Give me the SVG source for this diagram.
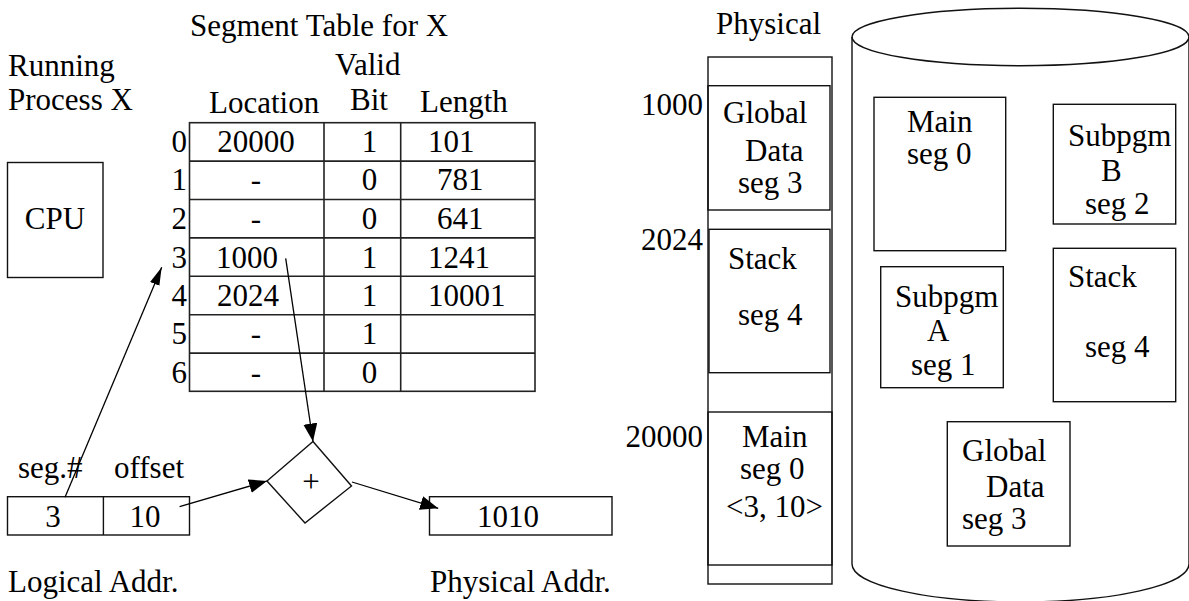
<svg xmlns="http://www.w3.org/2000/svg" width="1189" height="601" viewBox="0 0 1189 601">
  <style>
    text { font-family: "Liberation Serif", "Times New Roman", serif; font-size: 31px; fill: #000; }
    .box { fill: none; stroke: #111; stroke-width: 1.4; }
    .grid { fill: none; stroke: #222; stroke-width: 1.6; }
    .conn { fill: none; stroke: #000; stroke-width: 1.3; }
    .mid { text-anchor: middle; }
    .end { text-anchor: end; }
  </style>
  <defs>
    <marker id="head" markerUnits="userSpaceOnUse" markerWidth="20" markerHeight="16" refX="18" refY="7" orient="auto">
      <path d="M0,0 L18,7 L0,14 z" fill="#000"/>
    </marker>
    <marker id="headThin" markerUnits="userSpaceOnUse" markerWidth="20" markerHeight="12" refX="18" refY="5" orient="auto">
      <path d="M0,0 L18,5 L0,10 z" fill="#000"/>
    </marker>
  </defs>

  <rect width="1189" height="601" fill="#fff"/>

  <!-- process side labels -->
  <g id="process-label">
    <text x="8" y="76">Running</text>
    <text x="8" y="110">Process X</text>
  </g>

  <g id="cpu">
    <rect class="box" x="7.5" y="162.5" width="95.5" height="115"/>
    <text x="55" y="229" class="mid">CPU</text>
  </g>

  <!-- segment table -->
  <g id="segment-table">
    <text x="190" y="36">Segment Table for X</text>
    <text x="335" y="75">Valid</text>
    <text x="209" y="113">Location</text>
    <text x="350" y="110">Bit</text>
    <text x="420" y="112">Length</text>

    <rect class="grid" x="189.5" y="122.7" width="345.5" height="268.6"/>
    <path class="grid" d="M324,122.7 V391.3 M400.7,122.7 V391.3
      M189.5,161.1 H535 M189.5,199.5 H535 M189.5,237.9 H535 M189.5,276.3 H535
      M189.5,314.7 H535 M189.5,353.1 H535"/>

    <g class="end">
      <text x="187" y="152">0</text>
      <text x="187" y="190">1</text>
      <text x="187" y="229">2</text>
      <text x="187" y="268">3</text>
      <text x="187" y="306">4</text>
      <text x="187" y="344">5</text>
      <text x="187" y="383">6</text>
    </g>

    <text x="256" y="152" class="mid">20000</text>
    <text x="256" y="190" class="mid">-</text>
    <text x="256" y="229" class="mid">-</text>
    <text x="216" y="268">1000</text>
    <text x="217" y="306">2024</text>
    <text x="256" y="344" class="mid">-</text>
    <text x="256" y="383" class="mid">-</text>

    <g class="mid">
      <text x="369.5" y="152">1</text>
      <text x="369.5" y="190">0</text>
      <text x="369.5" y="229">0</text>
      <text x="369.5" y="268">1</text>
      <text x="369.5" y="306">1</text>
      <text x="369.5" y="344">1</text>
      <text x="369.5" y="383">0</text>
    </g>

    <text x="428" y="152">101</text>
    <text x="437" y="190">781</text>
    <text x="437" y="229">641</text>
    <text x="428" y="268">1241</text>
    <text x="428" y="306">10001</text>
  </g>

  <!-- logical address -->
  <g id="logical-address">
    <text x="18" y="478">seg.#</text>
    <text x="114" y="478">offset</text>
    <rect class="box" x="7.5" y="496.7" width="182" height="38.3"/>
    <line class="box" x1="103.4" y1="496.7" x2="103.4" y2="535"/>
    <text x="53" y="527" class="mid">3</text>
    <text x="145" y="527" class="mid">10</text>
    <text x="8" y="592">Logical Addr.</text>
  </g>

  <g id="adder">
    <polygon class="box" points="313,441.5 351.5,486 305,523 267,481"/>
    <text x="311" y="492" class="mid">+</text>
  </g>

  <g id="physical-address">
    <rect class="box" x="429.5" y="496.7" width="182.5" height="38.3"/>
    <text x="508" y="527" class="mid">1010</text>
    <text x="430" y="592">Physical Addr.</text>
  </g>

  <!-- physical memory column -->
  <g id="physical-memory">
    <text x="716" y="34">Physical</text>
    <rect class="box" x="708" y="57" width="124" height="527"/>
    <text x="703" y="115" class="end">1000</text>
    <text x="703" y="250" class="end">2024</text>
    <text x="703" y="447" class="end">20000</text>
  </g>

  <g id="mem-global-data">
    <rect class="box" x="708" y="85.7" width="122" height="124.3"/>
    <text x="723" y="123">Global</text>
    <text x="745" y="161">Data</text>
    <text x="738" y="193">seg 3</text>
  </g>

  <g id="mem-stack">
    <rect class="box" x="709" y="229.3" width="121" height="143.4"/>
    <text x="728" y="269">Stack</text>
    <text x="738" y="325">seg 4</text>
  </g>

  <g id="mem-main">
    <rect class="box" x="708" y="412" width="124" height="153"/>
    <text x="742" y="447">Main</text>
    <text x="740" y="479">seg 0</text>
    <text x="726" y="517">&lt;3, 10&gt;</text>
  </g>

  <!-- backing store drum -->
  <g id="disk">
    <path class="box" d="M852,37 V564 A168.5,38 0 0 0 1189,564 V37"/>
    <ellipse class="box" cx="1020.5" cy="37" rx="168.5" ry="28.7"/>
  </g>

  <g id="disk-main">
    <rect class="box" x="874" y="97.3" width="131.7" height="153.4"/>
    <text x="907" y="132">Main</text>
    <text x="907" y="164">seg 0</text>
  </g>

  <g id="disk-subpgm-b">
    <rect class="box" x="1053.3" y="104.3" width="122.4" height="119.7"/>
    <text x="1068" y="146">Subpgm</text>
    <text x="1101" y="181">B</text>
    <text x="1085" y="214">seg 2</text>
  </g>

  <g id="disk-subpgm-a">
    <rect class="box" x="880.7" y="266.7" width="122.6" height="121"/>
    <text x="895" y="307">Subpgm</text>
    <text x="927" y="341">A</text>
    <text x="911" y="375">seg 1</text>
  </g>

  <g id="disk-stack">
    <rect class="box" x="1053.3" y="248.3" width="122.4" height="153.4"/>
    <text x="1068" y="287">Stack</text>
    <text x="1085" y="357">seg 4</text>
  </g>

  <g id="disk-global-data">
    <rect class="box" x="947.3" y="421.7" width="122.7" height="124.3"/>
    <text x="962" y="461">Global</text>
    <text x="986" y="497">Data</text>
    <text x="962" y="529">seg 3</text>
  </g>

  <!-- connectors -->
  <g id="connectors">
    <line class="conn" x1="65" y1="497.3" x2="161.7" y2="267.3" marker-end="url(#headThin)"/>
    <line class="conn" x1="285.7" y1="258.3" x2="313" y2="441.5" marker-end="url(#head)"/>
    <line class="conn" x1="179.6" y1="506.7" x2="267" y2="481" marker-end="url(#head)"/>
    <line class="conn" x1="352" y1="482" x2="438.2" y2="508.3" marker-end="url(#head)"/>
  </g>
</svg>
